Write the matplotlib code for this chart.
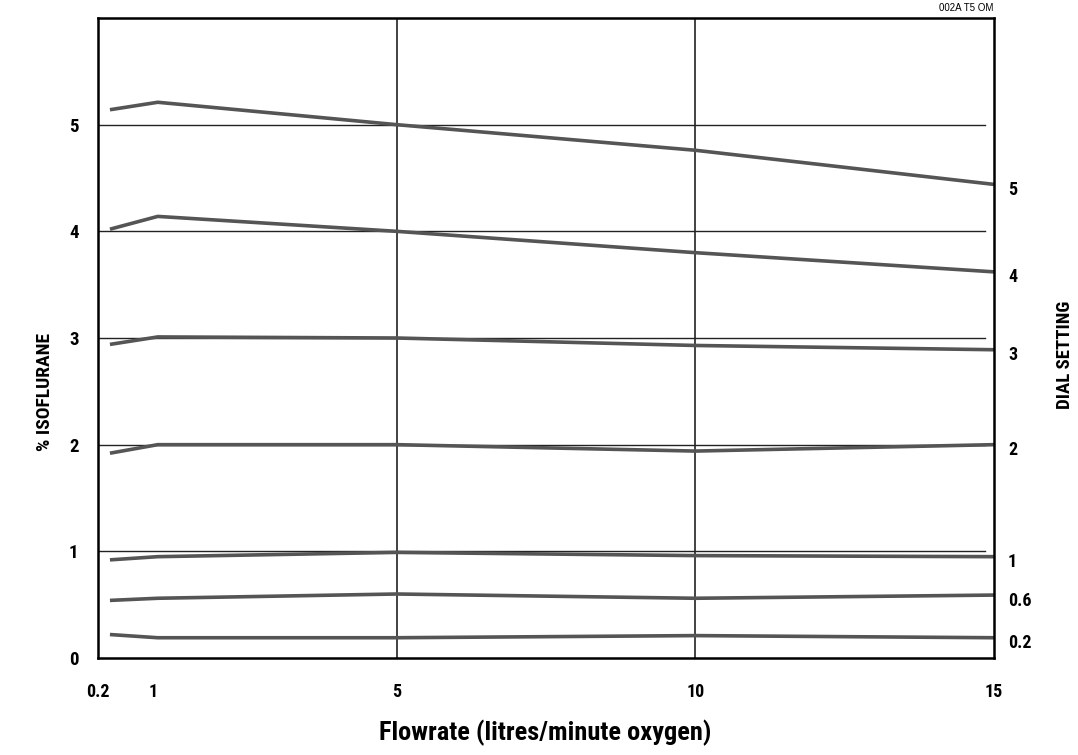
import matplotlib
matplotlib.use("Agg")
import matplotlib.pyplot as plt
from matplotlib import font_manager
from matplotlib.transforms import ScaledTranslation

names = {f.name for f in font_manager.fontManager.ttflist}
narrow = [n for n in ["Liberation Sans Narrow", "DejaVu Sans Condensed", "Roboto Condensed", "Open Sans Condensed"] if n in names]
FAM = narrow + ["DejaVu Sans"]
plt.rcParams['font.family'] = FAM

flow = [0.2, 1, 5, 10, 15]
dial_labels = ["5", "4", "3", "2", "1", "0.6", "0.2"]
s5 = [5.14, 5.21, 5.00, 4.76, 4.44]
s4 = [4.02, 4.14, 4.00, 3.80, 3.62]
s3 = [2.94, 3.01, 3.00, 2.93, 2.89]
s2 = [1.92, 2.00, 2.00, 1.94, 2.00]
s1 = [0.92, 0.95, 0.99, 0.96, 0.95]
s06 = [0.54, 0.56, 0.60, 0.56, 0.59]
s02 = [0.22, 0.19, 0.19, 0.21, 0.19]
series = [s5, s4, s3, s2, s1, s06, s02]
xticks = [0.2, 1, 5, 10, 15]
xticklabels = ["0.2", "1", "5", "10", "15"]
yticks = [0, 1, 2, 3, 4, 5]

fig = plt.figure(figsize=(10.78, 7.55), dpi=100)
ax = fig.add_axes([98/1078, 1-658/755, (994-98)/1078, (658-18)/755])
ax.set_xlim(0, 15)
ax.set_ylim(0, 6)

for g in [1, 2, 3, 4, 5]:
    ax.plot([0, 14.85], [g, g], color="#222222", lw=1.0, zorder=1)
for g in [5, 10]:
    ax.axvline(g, color="#222222", lw=1.2, zorder=1)

for s, lab in zip(series, dial_labels):
    ax.plot(flow, s, color="#555555", lw=2.6, solid_capstyle="butt", zorder=2)
    ax.annotate(lab, xy=(15, s[-1]), xytext=(10, -4), textcoords="offset points",
                ha="left", va="center", fontsize=13, fontweight="bold")

for sp in ax.spines.values():
    sp.set_linewidth(1.8)
    sp.set_color("black")

ax.set_xticks(xticks)
ax.set_xticklabels(xticklabels, fontsize=13, fontweight="bold")
ax.set_yticks(yticks)
ax.set_yticklabels([str(v) for v in yticks], fontsize=13.5, fontweight="bold")
ax.tick_params(axis="x", length=0, pad=18)
ax.tick_params(axis="y", length=0, pad=14)

# shift the crowded first two x labels left as in the reference
shifts = [-12, -5, 0, 0, 0]
for lbl, dx in zip(ax.get_xticklabels(), shifts):
    lbl.set_transform(lbl.get_transform() + ScaledTranslation(dx/100, 0, fig.dpi_scale_trans))

fig.text(545/1078, 1-733/755, "Flowrate (litres/minute oxygen)", ha="center", va="center",
         fontsize=19, fontweight="bold")
fig.text(45/1078, 1-392/755, "% ISOFLURANE", rotation=90, ha="center", va="center",
         fontsize=14, fontweight="bold")
fig.text(1065/1078, 1-355/755, "DIAL SETTING", rotation=90, ha="center", va="center",
         fontsize=13.5, fontweight="bold")
fig.text(993/1078, 1-8/755, "002A T5 OM", ha="right", va="center", fontsize=7,
         family=["Liberation Sans", "DejaVu Sans"])

fig.savefig("out.png", dpi=100)
